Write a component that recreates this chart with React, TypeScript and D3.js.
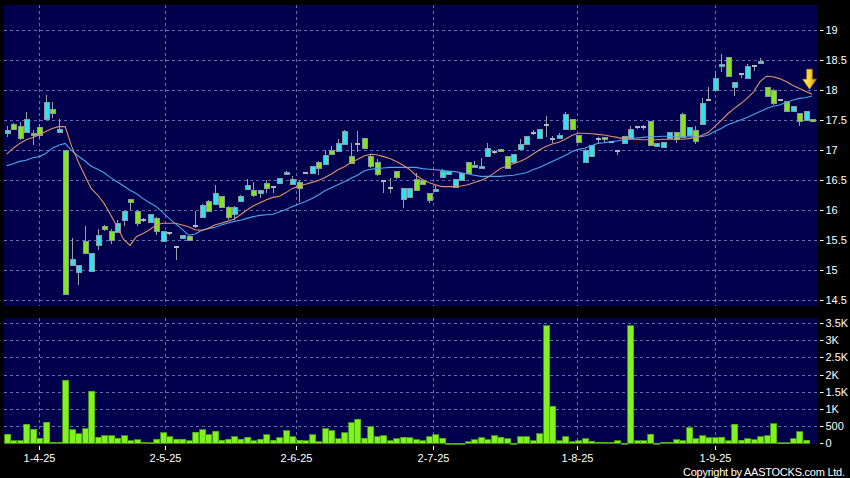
import React from 'react';
import * as d3 from 'd3';

// ---- data ----
const opens = [
  17.28, 17.43, 17.39, 17.29, 17.28, 17.38, 17.51, 17.68, 17.29, 17.00,
  15.08, 14.96, 15.47, 14.97, 15.41, 15.73, 15.64, 15.63, 15.83, 16.18,
  15.97, 15.83, 15.79, 15.86, 15.48, 15.61, 15.39, 15.53, 15.56, 15.73,
  15.88, 16.14, 16.10, 16.22, 16.05, 15.93, 16.14, 16.34, 16.33, 16.27,
  16.44, 16.38, 16.44, 16.60, 16.43, 16.46, 16.62, 16.61, 16.80, 16.76,
  17.00, 16.98, 17.10, 16.89, 17.10, 17.19, 16.89, 16.80, 16.48, 16.36,
  16.64, 16.18, 16.21, 16.51, 16.50, 16.28, 16.31, 16.54, 16.60, 16.38,
  16.50, 16.79, 16.71, 16.69, 16.90, 16.96, 17.01, 16.89, 16.79, 17.01,
  17.10, 17.29, 17.19, 17.42, 17.19, 17.19, 17.34, 17.51, 17.24, 16.79,
  16.89, 17.18, 17.21, 17.13, 16.99, 17.11, 17.19, 17.38, 17.38, 17.48,
  17.06, 17.05, 17.19, 17.29, 17.60, 17.24, 17.33, 17.43, 17.84, 18.00,
  18.40, 18.54, 18.04, 18.26, 18.19, 18.40, 18.44, 18.04, 18.00, 17.83,
  17.81, 17.64, 17.61, 17.50, 17.51,
];
const highs = [
  17.40, 17.45, 17.47, 17.63, 17.33, 17.43, 17.92, 17.80, 17.51, 17.00,
  15.53, 15.09, 15.73, 15.28, 15.69, 15.75, 15.68, 15.83, 15.99, 16.19,
  15.98, 15.86, 15.93, 15.88, 15.65, 15.63, 15.39, 15.58, 15.58, 15.98,
  16.10, 16.16, 16.42, 16.24, 16.06, 16.06, 16.25, 16.51, 16.47, 16.33,
  16.50, 16.39, 16.54, 16.65, 16.56, 16.48, 16.63, 16.74, 16.81, 17.00,
  17.06, 17.19, 17.33, 17.11, 17.32, 17.20, 16.92, 16.85, 16.49, 16.53,
  16.65, 16.37, 16.37, 16.61, 16.51, 16.29, 16.42, 16.69, 16.65, 16.52,
  16.62, 16.80, 16.82, 16.86, 17.11, 17.00, 17.02, 16.90, 16.94, 17.18,
  17.23, 17.33, 17.35, 17.57, 17.24, 17.28, 17.63, 17.52, 17.25, 17.01,
  17.08, 17.21, 17.22, 17.15, 17.00, 17.23, 17.40, 17.40, 17.41, 17.49,
  17.12, 17.14, 17.30, 17.30, 17.61, 17.38, 17.40, 17.86, 18.05, 18.32,
  18.60, 18.55, 18.14, 18.28, 18.43, 18.42, 18.53, 18.05, 18.01, 17.84,
  17.82, 17.74, 17.62, 17.65, 17.52,
];
const lows = [
  17.22, 17.33, 17.17, 17.28, 17.09, 17.20, 17.50, 17.53, 17.28, 14.60,
  15.07, 14.75, 15.27, 14.96, 15.33, 15.65, 15.44, 15.62, 15.74, 16.00,
  15.74, 15.80, 15.78, 15.58, 15.47, 15.58, 15.17, 15.52, 15.49, 15.70,
  15.87, 15.96, 16.08, 16.03, 15.83, 15.83, 16.13, 16.33, 16.22, 16.20,
  16.28, 16.28, 16.43, 16.59, 16.42, 16.14, 16.61, 16.60, 16.59, 16.75,
  16.92, 16.97, 17.09, 16.77, 16.97, 17.02, 16.70, 16.57, 16.28, 16.28,
  16.52, 16.04, 16.20, 16.32, 16.41, 16.11, 16.30, 16.53, 16.59, 16.37,
  16.49, 16.60, 16.70, 16.68, 16.89, 16.93, 16.96, 16.68, 16.78, 17.00,
  17.09, 17.25, 17.18, 17.22, 17.12, 17.18, 17.33, 17.33, 17.12, 16.78,
  16.88, 17.10, 17.12, 17.11, 16.92, 17.10, 17.18, 17.35, 17.34, 17.06,
  17.05, 17.04, 17.18, 17.11, 17.20, 17.23, 17.10, 17.42, 17.83, 17.99,
  18.30, 18.22, 17.90, 18.20, 18.18, 18.31, 18.43, 17.89, 17.75, 17.81,
  17.63, 17.63, 17.40, 17.49, 17.46,
];
const closes = [
  17.33, 17.35, 17.19, 17.51, 17.25, 17.25, 17.80, 17.61, 17.34, 14.60,
  15.18, 15.08, 15.28, 15.27, 15.58, 15.67, 15.49, 15.77, 15.98, 16.12,
  15.78, 15.83, 15.92, 15.65, 15.64, 15.61, 15.39, 15.57, 15.50, 15.73,
  16.08, 15.97, 16.28, 16.05, 15.88, 16.05, 16.23, 16.41, 16.24, 16.32,
  16.36, 16.38, 16.53, 16.63, 16.51, 16.36, 16.62, 16.73, 16.69, 16.91,
  16.93, 17.11, 17.31, 16.78, 17.10, 17.03, 16.73, 16.60, 16.48, 16.36,
  16.54, 16.36, 16.36, 16.33, 16.42, 16.16, 16.35, 16.64, 16.64, 16.51,
  16.61, 16.61, 16.75, 16.72, 17.03, 16.96, 16.97, 16.69, 16.93, 17.10,
  17.22, 17.29, 17.34, 17.42, 17.19, 17.25, 17.60, 17.34, 17.13, 17.00,
  17.07, 17.18, 17.17, 17.13, 16.99, 17.22, 17.34, 17.38, 17.38, 17.07,
  17.11, 17.13, 17.29, 17.18, 17.21, 17.37, 17.14, 17.77, 17.84, 18.19,
  18.43, 18.23, 18.13, 18.26, 18.39, 18.40, 18.48, 17.90, 17.78, 17.83,
  17.64, 17.73, 17.48, 17.64, 17.47,
];
const volumes = [
  261, 68, 77, 551, 406, 145, 619, 29, 29, 1828,
  387, 271, 416, 1509, 174, 213, 213, 145, 213, 68,
  97, 29, 10, 116, 300, 193, 116, 116, 68, 319,
  387, 251, 348, 87, 116, 184, 116, 174, 68, 116,
  242, 87, 160, 360, 184, 87, 68, 242, 39, 416,
  358, 126, 310, 600, 706, 145, 484, 193, 222, 68,
  135, 174, 164, 97, 68, 193, 242, 145, 5, 5,
  5, 48, 97, 155, 97, 213, 174, 126, 5, 184,
  184, 68, 271, 3414, 1083, 68, 193, 39, 77, 126,
  58, 29, 29, 29, 68, 5, 3414, 68, 68, 261,
  5, 29, 29, 97, 68, 455, 126, 213, 164, 164,
  174, 68, 561, 87, 135, 97, 193, 213, 571, 19,
  19, 135, 339, 87, 0,
];
const ma10 = [
  16.93, 17.03, 17.11, 17.17, 17.21, 17.25, 17.31, 17.36, 17.39, 17.39,
  17.06, 16.81, 16.58, 16.36, 16.25, 16.11, 15.92, 15.72, 15.51, 15.41,
  15.56, 15.61, 15.67, 15.75, 15.78, 15.78, 15.78, 15.75, 15.72, 15.67,
  15.66, 15.69, 15.75, 15.78, 15.81, 15.85, 15.92, 16.00, 16.07, 16.12,
  16.17, 16.21, 16.23, 16.29, 16.36, 16.40, 16.43, 16.46, 16.49, 16.54,
  16.60, 16.67, 16.72, 16.79, 16.84, 16.90, 16.93, 16.92, 16.89, 16.86,
  16.81, 16.75, 16.68, 16.58, 16.51, 16.46, 16.42, 16.39, 16.39, 16.39,
  16.40, 16.42, 16.46, 16.49, 16.54, 16.61, 16.69, 16.73, 16.77, 16.81,
  16.86, 16.93, 17.00, 17.06, 17.10, 17.13, 17.18, 17.24, 17.28, 17.28,
  17.27, 17.26, 17.25, 17.23, 17.21, 17.19, 17.18, 17.18, 17.17, 17.17,
  17.17, 17.18, 17.18, 17.18, 17.18, 17.19, 17.21, 17.24, 17.29, 17.39,
  17.49, 17.60, 17.69, 17.77, 17.86, 17.97, 18.14, 18.23, 18.22, 18.19,
  18.14, 18.08, 18.03, 17.98, 17.93,
];
const ma20 = [
  16.74, 16.77, 16.81, 16.83, 16.87, 16.89, 16.94, 17.03, 17.08, 17.11,
  16.99, 16.90, 16.82, 16.73, 16.68, 16.62, 16.54, 16.47, 16.40, 16.33,
  16.27, 16.19, 16.12, 16.06, 15.96, 15.86, 15.77, 15.68, 15.58, 15.60,
  15.66, 15.69, 15.71, 15.75, 15.78, 15.81, 15.83, 15.86, 15.89, 15.91,
  15.92, 15.93, 15.97, 16.01, 16.06, 16.10, 16.14, 16.19, 16.25, 16.32,
  16.37, 16.42, 16.47, 16.53, 16.58, 16.65, 16.68, 16.69, 16.70, 16.71,
  16.71, 16.71, 16.71, 16.71, 16.69, 16.68, 16.67, 16.66, 16.65, 16.64,
  16.62, 16.60, 16.58, 16.56, 16.56, 16.56, 16.56, 16.57, 16.58, 16.60,
  16.62, 16.67, 16.71, 16.76, 16.81, 16.86, 16.91, 16.97, 17.01, 17.03,
  17.07, 17.11, 17.12, 17.14, 17.15, 17.17, 17.19, 17.20, 17.21, 17.22,
  17.22, 17.23, 17.23, 17.22, 17.22, 17.22, 17.22, 17.22, 17.25, 17.31,
  17.36, 17.42, 17.46, 17.50, 17.54, 17.59, 17.64, 17.69, 17.73, 17.75,
  17.79, 17.83, 17.86, 17.87, 17.90,
];
const priceTicks = [14.5, 15, 15.5, 16, 16.5, 17, 17.5, 18, 18.5, 19];
const volTicks = [0, 500, 1000, 1500, 2000, 2500, 3000, 3500];
const volTickLabels = ['0', '500', '1K', '1.5K', '2K', '2.5K', '3K', '3.5K'];
const dateLabels = ['1-4-25', '2-5-25', '2-6-25', '2-7-25', '1-8-25', '1-9-25'];
const dateLabelAt = [5, 24.4, 44.5, 65.6, 87.8, 109];

// ---- layout ----
const W = 850;
const H = 478;
const panelL = 4;
const panelR = 817;
const mainTop = 5;
const mainBot = 306;
const volTop = 318;
const volBot = 444;

const BG = '#00004c';
const GRID = '#6670a6';
const CYAN = '#33dff0';
const GREEN = '#82e61e';
const WICK = '#9aa0a4';
const FONT = '"Liberation Sans", Arial, Helvetica, sans-serif';

export default function App() {
  const n = closes.length;
  const x = d3.scaleLinear().domain([0, n - 1]).range([6.7, 812]);
  const y = d3.scaleLinear().domain([14.5, 19]).range([300, 30]);
  const yv = d3.scaleLinear().domain([0, 3500]).range([443.3, 322.9]);

  const line10 = d3.line<number>().x((_, i) => x(i)).y((d) => y(d));
  const line20 = d3.line<number>().x((_, i) => x(i)).y((d) => y(d));

  const lastX = Math.round(x(n - 1)) - 2.5;
  const lastY = y(ma10[n - 1]) - 5;
  const arrow = `M${lastX},${lastY} L${lastX - 6.8},${lastY - 10} L${lastX - 2.8},${lastY - 10} L${lastX - 2.8},${lastY - 20} L${lastX + 2.8},${lastY - 20} L${lastX + 2.8},${lastY - 10} L${lastX + 6.8},${lastY - 10} Z`;

  return (
    <svg
      width={W}
      height={H}
      style={{ position: 'absolute', left: 0, top: 0, background: '#000', display: 'block' }}
      fontFamily={FONT}
    >
      <defs>
        <linearGradient id="arrowGrad" x1="0" x2="1" y1="0" y2="0">
          <stop offset="0" stopColor="#fff36a" />
          <stop offset="0.55" stopColor="#f5d030" />
          <stop offset="1" stopColor="#d98e08" />
        </linearGradient>
        <clipPath id="mainClip">
          <rect x={panelL} y={mainTop} width={panelR - panelL} height={mainBot - mainTop} />
        </clipPath>
      </defs>
      <rect x={0} y={0} width={W} height={H} fill="#000" />
      {/* panels */}
      <rect x={panelL} y={mainTop} width={panelR - panelL} height={mainBot - mainTop} fill={BG} />
      <rect x={panelL} y={volTop} width={panelR - panelL} height={volBot - volTop} fill={BG} />

      {/* grid main */}
      {priceTicks.map((t) => (
        <line key={'pg' + t} x1={panelL} x2={panelR} y1={Math.round(y(t)) + 0.5} y2={Math.round(y(t)) + 0.5}
          stroke={GRID} strokeWidth={1} strokeDasharray="3,3" />
      ))}
      {volTicks.slice(1).map((t) => (
        <line key={'vg' + t} x1={panelL} x2={panelR} y1={Math.round(yv(t)) + 0.5} y2={Math.round(yv(t)) + 0.5}
          stroke={GRID} strokeWidth={1} strokeDasharray="3,3" />
      ))}
      {dateLabelAt.map((p, k) => (
        <g key={'dg' + k}>
          <line x1={Math.round(x(p)) + 0.5} x2={Math.round(x(p)) + 0.5} y1={mainTop} y2={mainBot}
            stroke={GRID} strokeWidth={1} strokeDasharray="3,3" />
          <line x1={Math.round(x(p)) + 0.5} x2={Math.round(x(p)) + 0.5} y1={volTop} y2={volBot}
            stroke={GRID} strokeWidth={1} strokeDasharray="3,3" />
        </g>
      ))}

      {/* candles */}
      <g clipPath="url(#mainClip)" shapeRendering="crispEdges">
        {closes.map((c, i) => {
          const o = opens[i];
          const cx = Math.round(x(i));
          const top = y(Math.max(o, c));
          const bot = y(Math.min(o, c));
          const doji = Math.abs(o - c) < 0.005;
          const color = c > o ? CYAN : GREEN;
          return (
            <g key={'c' + i}>
              <line x1={cx + 0.5} x2={cx + 0.5} y1={y(highs[i])} y2={y(lows[i])} stroke={WICK} strokeWidth={1} />
              {doji ? (
                <rect x={cx - 2} y={Math.round(top) - 1} width={5} height={2} fill="#b4b8bc" />
              ) : (
                <rect x={cx - 2} y={top} width={5} height={Math.max(1.5, bot - top)} fill={color}
                  stroke="#8c9a9c" strokeWidth={1} />
              )}
            </g>
          );
        })}
      </g>

      {/* moving averages */}
      <g clipPath="url(#mainClip)">
        <path d={line20(ma20) || ''} fill="none" stroke="#4aa6ea" strokeWidth={1.1} />
        <path d={line10(ma10) || ''} fill="none" stroke="#e0906a" strokeWidth={1.1} />
      </g>

      {/* arrow */}
      <path d={arrow} fill="url(#arrowGrad)" stroke="#c98a10" strokeWidth={0.6} />

      {/* volume bars */}
      <g shapeRendering="crispEdges">
        {volumes.map((v, i) => {
          const cx = Math.round(x(i));
          const top = yv(v);
          const h = yv(0) - top;
          if (h <= 0) return null;
          return (
            <rect key={'v' + i} x={cx - 2.5} y={top} width={6} height={Math.max(1, h)}
              fill="#80f21e" stroke="#4ea812" strokeWidth={0.8} />
          );
        })}
      </g>

      {/* right axis labels */}
      {priceTicks.map((t) => (
        <g key={'pl' + t}>
          <line x1={820} x2={823.5} y1={Math.round(y(t)) + 0.5} y2={Math.round(y(t)) + 0.5} stroke="#fff" strokeWidth={1} />
          <text x={825.5} y={y(t) + 4} fill="#fff" fontSize={11}>{String(t)}</text>
        </g>
      ))}
      {volTicks.map((t, k) => (
        <g key={'vl' + t}>
          <line x1={820} x2={823.5} y1={Math.round(yv(t)) + 0.5} y2={Math.round(yv(t)) + 0.5} stroke="#fff" strokeWidth={1} />
          <text x={825.5} y={yv(t) + 4} fill="#fff" fontSize={11}>{volTickLabels[k]}</text>
        </g>
      ))}

      {/* date labels */}
      {dateLabels.map((lab, k) => {
        const px = Math.round(x(dateLabelAt[k])) + 0.5;
        return (
          <g key={'dl' + k}>
            <line x1={px} x2={px} y1={446} y2={450} stroke="#fff" strokeWidth={1} />
            <text x={px} y={461.5} fill="#fff" fontSize={11} textAnchor="middle">{lab}</text>
          </g>
        );
      })}

      <text x={683} y={475.5} fill="#fff" fontSize={11} textLength={162} lengthAdjust="spacing">
        Copyright by AASTOCKS.com Ltd.
      </text>
    </svg>
  );
}
